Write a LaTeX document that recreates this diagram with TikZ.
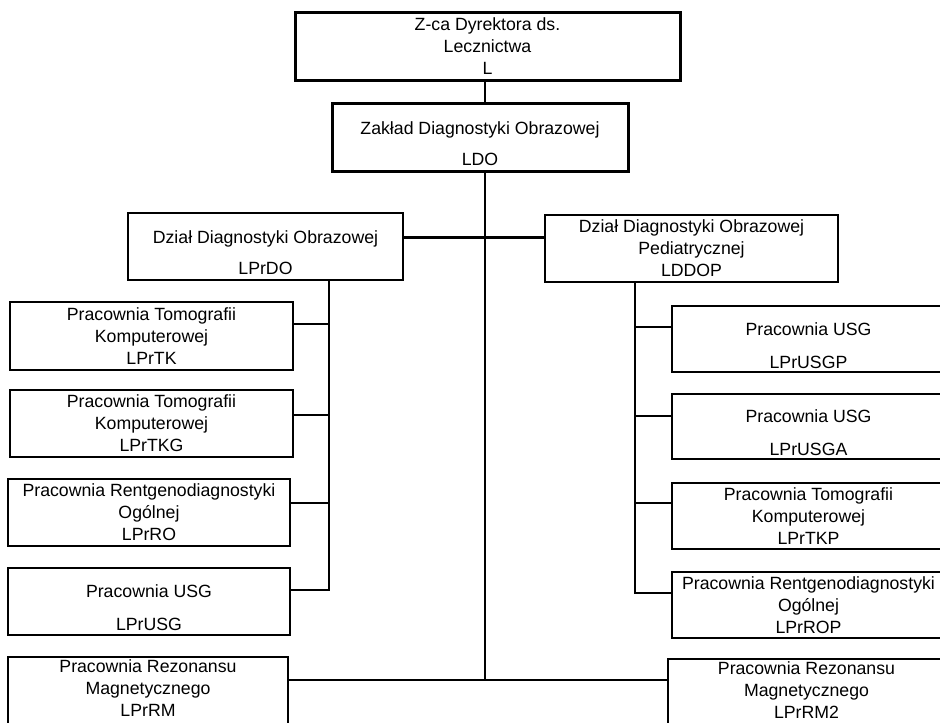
\documentclass[tikz,border=0pt]{standalone}
\usepackage{fontspec}
\setmainfont{Liberation Sans}
\newcommand{\lowstrut}{\rule{0pt}{26pt}}
\begin{document}
\begin{tikzpicture}[x=1pt,y=-1pt,
  box/.style={draw=black, line width=1.8pt, fill=white, rectangle, inner sep=0pt, align=center,
    font=\fontsize{17.7}{22}\selectfont},
  bigbox/.style={box, line width=3pt},
  cutbox/.style={box, text depth=6pt},
  conn/.style={draw=black, line width=2.1pt}]
\useasboundingbox (0,0) rectangle (940,723);
\fill[white] (0,0) rectangle (940,723);
% bus coordinates
\coordinate (mbus) at (485,0);
\coordinate (lbus) at (329,0);
\coordinate (rbus) at (635,0);
% top
\node[bigbox, minimum width=385pt, minimum height=68pt] (top) at (487.5,46) {Z-ca Dyrektora ds.\\Lecznictwa\\L};
\node[bigbox, minimum width=296pt, minimum height=68pt] (ldo) at (480,137) {\lowstrut Zakład Diagnostyki Obrazowej\\[9pt]LDO};
% departments
\node[box, minimum width=275pt, minimum height=67pt] (ddo) at (265.5,246.5) {\lowstrut Dział Diagnostyki Obrazowej\\[9pt]LPrDO};
\node[box, minimum width=293pt, minimum height=67pt] (ddop) at (691.5,248.5) {Dział Diagnostyki Obrazowej\\Pediatrycznej\\LDDOP};
% left children
\node[box, minimum width=283pt, minimum height=68pt] (lprtk) at (151.5,336) {Pracownia Tomografii\\Komputerowej\\LPrTK};
\node[box, minimum width=283pt, minimum height=67pt] (lprtkg) at (151.5,423.5) {Pracownia Tomografii\\Komputerowej\\LPrTKG};
\node[box, minimum width=282pt, minimum height=67pt] (lprro) at (149,512.5) {Pracownia Rentgenodiagnostyki\\Ogólnej\\LPrRO};
\node[box, minimum width=282pt, minimum height=67pt] (lprusg) at (149,601.5) {\lowstrut Pracownia USG\\[11pt]LPrUSG};
\node[cutbox, minimum width=280pt, minimum height=69pt] (lprrm) at (148,691.5) {Pracownia Rezonansu\\Magnetycznego\\LPrRM};
% right children
\node[box, minimum width=273pt, minimum height=66pt] (lprusgp) at (808.5,339) {\lowstrut Pracownia USG\\[11pt]LPrUSGP};
\node[box, minimum width=273pt, minimum height=65pt] (lprusga) at (808.5,426.5) {\lowstrut Pracownia USG\\[11pt]LPrUSGA};
\node[box, minimum width=273pt, minimum height=66pt] (lprtkp) at (808.5,516) {Pracownia Tomografii\\Komputerowej\\LPrTKP};
\node[box, minimum width=273pt, minimum height=66pt] (lprrop) at (808.5,605) {Pracownia Rentgenodiagnostyki\\Ogólnej\\LPrROP};
\node[cutbox, minimum width=277pt, minimum height=69pt] (lprrm2) at (806.5,693.5) {Pracownia Rezonansu\\Magnetycznego\\LPrRM2};
% connectors
\draw[conn] (top.south -| mbus) -- (ldo.north -| mbus);
\draw[conn] (ldo.south -| mbus) -- ([yshift=11.5pt]lprrm.east -| mbus);
\draw[conn] ([yshift=9pt]ddo.east) -- ([yshift=9pt]ddo.east -| ddop.west);
\draw[conn] ([yshift=11.5pt]lprrm.east) -- ([yshift=11.5pt]lprrm.east -| lprrm2.west);
% left bus
\draw[conn] (ddo.south -| lbus) |- ([yshift=11.5pt]lprusg.east);
\draw[conn] ([yshift=12pt]lprtk.east) -- ([yshift=12pt]lprtk.east -| lbus);
\draw[conn] ([yshift=8.5pt]lprtkg.east) -- ([yshift=8.5pt]lprtkg.east -| lbus);
\draw[conn] ([yshift=9.5pt]lprro.east) -- ([yshift=9.5pt]lprro.east -| lbus);
% right bus
\draw[conn] (ddop.south -| rbus) |- ([yshift=12pt]lprrop.west);
\draw[conn] ([yshift=12pt]lprusgp.west) -- ([yshift=12pt]lprusgp.west -| rbus);
\draw[conn] ([yshift=10.5pt]lprusga.west) -- ([yshift=10.5pt]lprusga.west -| rbus);
\draw[conn] ([yshift=13pt]lprtkp.west) -- ([yshift=13pt]lprtkp.west -| rbus);
\end{tikzpicture}
\end{document}
